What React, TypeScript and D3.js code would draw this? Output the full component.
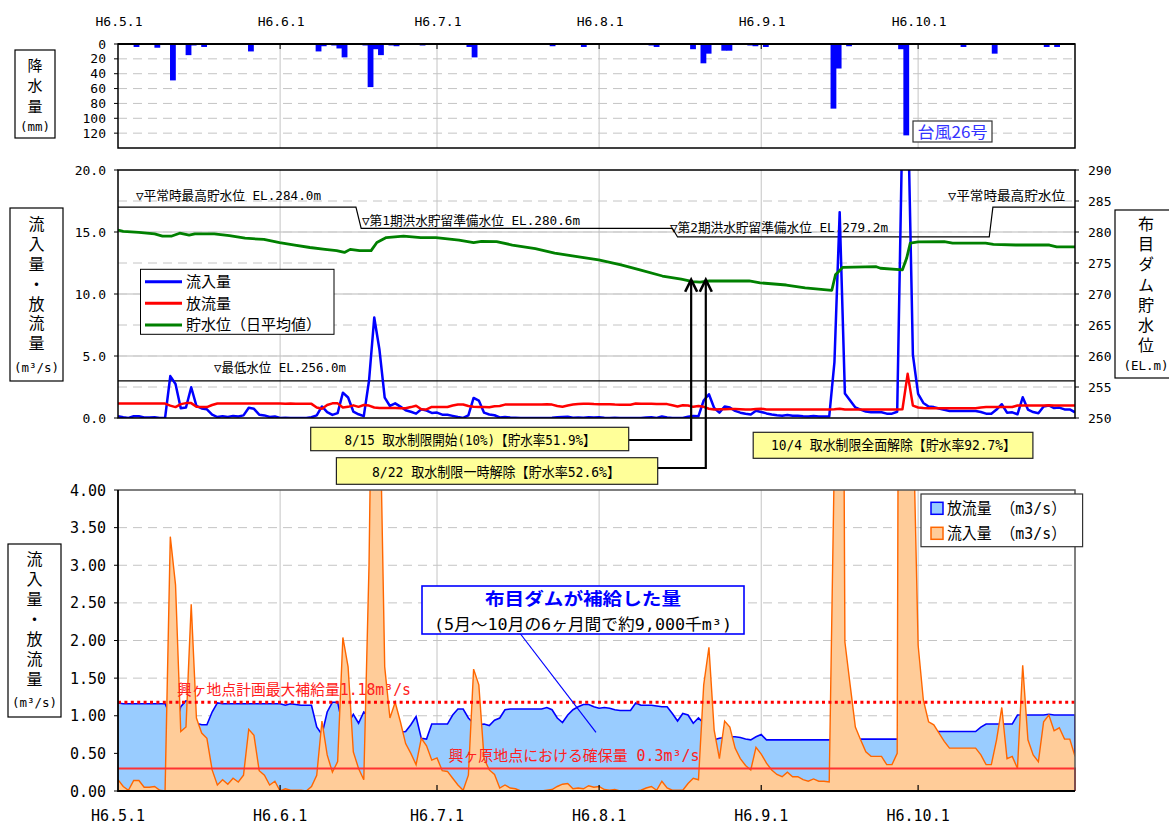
import * as d3 from "d3";

// 平成6年 5/1〜10/31 の日データ (day 0 = 5/1)
const monthStarts = [0, 31, 61, 92, 123, 153];
const monthLabels = ["H6.5.1", "H6.6.1", "H6.7.1", "H6.8.1", "H6.9.1", "H6.10.1"];

const rainTicks = [0, 20, 40, 60, 80, 100, 120];
const flowTicks = [0, 5, 10, 15, 20];
const levelTicks = [250, 255, 260, 265, 270, 275, 280, 285, 290];
const supplyTicks = [0, 0.5, 1, 1.5, 2, 2.5, 3, 3.5, 4];

// 降水量 [day, mm]
const rainfall: [number, number][] = [
  [3, 4], [7, 5], [10, 49], [13, 15], [14, 2], [16, 4], [25, 10], [38, 10], [39, 3],
  [41, 2], [42, 6], [43, 18], [47, 2], [48, 58], [49, 7], [50, 15], [52, 2], [53, 3],
  [58, 2], [67, 4], [68, 18], [83, 3], [89, 4], [102, 2], [103, 4], [110, 7], [112, 26],
  [113, 13], [116, 9], [117, 9], [121, 2], [122, 3], [124, 4], [137, 87], [138, 33],
  [140, 3], [150, 7], [151, 123], [162, 4], [168, 13], [178, 4], [180, 4],
];

// 流入量 (m3/s)
const inflow = [
  0.15, 0.06, 0.01, 0.14, 0.14, 0.05, 0.05, 0.06, 0.01, 0.0,
  3.38, 2.74, 0.79, 0.85, 2.48, 0.97, 0.77, 0.7, 0.28, 0.08,
  0.15, 0.09, 0.17, 0.12, 0.21, 0.82, 0.74, 0.27, 0.21, 0.08,
  0.13, 0.0, 0.03, 0.01, 0.01, 0.01, 0.0, 0.06, 0.21, 0.93,
  0.48, 0.25, 0.39, 2.04, 1.65, 0.52, 0.3, 0.15, 3.0, 8.1,
  5.5, 1.65, 0.97, 1.18, 0.92, 0.63, 0.5, 0.35, 0.7, 0.6,
  0.41, 0.44, 0.27, 0.26, 0.17, 0.08, 0.01, 0.21, 1.62, 1.41,
  0.43, 0.28, 0.22, 0.04, 0.08, 0.04, 0.03, 0.0, 0.0, 0.0,
  0.0, 0.0, 0.01, 0.02, 0.06, 0.09, 0.1, 0.03, 0.04, 0.03,
  0.07, 0.05, 0.06, 0.02, 0.01, 0.02, 0.0, 0.0, 0.0, 0.0,
  0.01, 0.04, 0.06, 0.01, 0.13, 0.04, 0.01, 0.01, 0.01, 0.1,
  0.17, 0.15, 1.41, 1.91, 0.81, 0.43, 0.93, 0.85, 0.57, 0.43,
  0.34, 0.28, 0.58, 0.49, 0.37, 0.28, 0.22, 0.19, 0.25, 0.19,
  0.19, 0.15, 0.13, 0.16, 0.13, 0.13, 0.12, 4.5, 16.6, 1.98,
  1.41, 0.85, 0.68, 0.52, 0.46, 0.46, 0.46, 0.35, 0.35, 0.5,
  24.0, 26.0, 5.1, 1.94, 1.21, 0.92, 0.88, 0.77, 0.66, 0.57,
  0.57, 0.57, 0.57, 0.57, 0.57, 0.48, 0.35, 0.35, 0.68, 1.11,
  0.43, 0.46, 0.3, 1.67, 0.68, 0.48, 0.39, 0.92, 1.01, 0.8,
  0.84, 0.69, 0.69, 0.46,
];

// 放流量 (m3/s)
const outflow = [
  1.17, 1.16, 1.16, 1.16, 1.16, 1.16, 1.16, 1.16, 1.16, 1.16,
  1.0, 0.88, 1.12, 1.2, 1.2, 0.9, 0.88, 0.88, 1.05, 1.17,
  1.16, 1.16, 1.16, 1.16, 1.16, 1.16, 1.16, 1.16, 1.16, 1.16,
  1.16, 1.16, 1.14, 1.16, 1.15, 1.14, 1.14, 1.14, 0.85, 0.75,
  1.05, 1.18, 1.18, 0.85, 0.9, 1.02, 0.9, 1.05, 1.0, 0.85,
  0.8, 0.8, 0.8, 0.8, 0.78, 0.79, 0.88, 0.99, 0.7, 0.69,
  0.89, 0.89, 0.89, 0.89, 1.01, 1.09, 1.09, 0.97, 0.9, 0.88,
  0.89, 0.87, 0.94, 0.97, 1.08, 1.09, 1.09, 1.09, 1.09, 1.09,
  1.09, 1.09, 1.11, 1.08, 0.97, 0.91, 1.01, 1.08, 1.12, 1.15,
  1.15, 1.12, 1.1, 1.11, 1.1, 1.08, 1.07, 1.07, 1.07, 1.17,
  1.14, 1.14, 1.14, 1.13, 1.12, 1.12, 1.03, 0.93, 1.03, 1.01,
  0.9, 0.97, 0.9, 0.75, 0.68, 0.7, 0.71, 0.72, 0.72, 0.71,
  0.69, 0.68, 0.72, 0.75, 0.68, 0.68, 0.68, 0.68, 0.68, 0.68,
  0.68, 0.68, 0.68, 0.68, 0.68, 0.68, 0.68, 0.7, 0.75, 0.69,
  0.69, 0.69, 0.69, 0.69, 0.69, 0.69, 0.69, 0.69, 0.69, 0.69,
  0.7, 3.56, 1.0, 0.85, 0.8, 0.79, 0.79, 0.79, 0.79, 0.79,
  0.79, 0.79, 0.79, 0.79, 0.79, 0.85, 0.89, 0.89, 0.89, 0.89,
  0.89, 0.89, 1.01, 1.01, 1.01, 1.01, 1.01, 1.01, 1.02, 1.01,
  1.01, 1.01, 1.01, 1.01,
];

// 貯水位 日平均値 (EL.m) [day, EL]
const storageLevel: [number, number][] = [
  [0, 280.3], [1, 280.1], [4, 279.95], [7, 279.7], [8.5, 279.35], [10.3, 279.35],
  [11.8, 279.8], [13.6, 279.5], [14.7, 279.7], [18.4, 279.7], [21.3, 279.4], [24.3, 279.0],
  [27.9, 278.8], [30.9, 278.3], [33.8, 277.9], [36.7, 277.5], [39.6, 277.2], [41.8, 277.0],
  [43.3, 276.7], [44.4, 277.2], [46.2, 277.0], [48.4, 277.0], [49.5, 278.3], [51.3, 279.1],
  [54.6, 279.35], [57.9, 279.1], [60.8, 279.1], [65.2, 278.7], [68, 278.3], [69.5, 278.5],
  [72.4, 278.45], [75.4, 277.9], [79.8, 277.3], [83.5, 276.6], [87.5, 276.05], [91.9, 275.5],
  [96.2, 274.7], [99.8, 273.9], [104.1, 272.9], [107.7, 272.4], [109.9, 272.0], [111.3, 271.9],
  [113.1, 272.1], [120.7, 272.1], [122.8, 271.8], [127.8, 271.45], [131.4, 271.0], [136.5, 270.6],
  [137.2, 273.1], [138.6, 274.3], [145, 274.4], [145.8, 274.15], [150, 273.9], [150.8, 275.75],
  [151.5, 278.2], [153, 278.4], [158, 278.45], [159.6, 278.2], [165.9, 278.2], [167.4, 278.0],
  [171.7, 277.9], [178.1, 277.9], [179.5, 277.6], [183, 277.6],
];

// 制限水位 (平常時最高 / 第1期 / 第2期)
const ruleLevel: [number, number][] = [
  [0, 284], [45.5, 284], [46.5, 280.6], [106, 280.6], [107, 279.2],
  [166.6, 279.2], [167.3, 284], [183, 284],
];
const minLevel = 256;
const maxSupply = 1.18;
const securedFlow = 0.3;
const arrowDays = [109.6, 112.4];

const X0 = 118;
const X1 = 1075;
const MONO = "'DejaVu Sans Mono', 'Noto Sans CJK JP', monospace";
const JP = "'Noto Sans CJK JP', sans-serif";
const GRID = "#c4c4c4";

const x = d3.scaleLinear().domain([0, 183]).range([X0, X1]);
const xb = d3.scaleBand<number>().domain(d3.range(184)).range([X0, X1]).paddingInner(0);
const yRain = d3.scaleLinear().domain([0, 140]).range([44, 148]);
const yFlow = d3.scaleLinear().domain([0, 20]).range([418, 170]);
const yEL = d3.scaleLinear().domain([250, 290]).range([418, 170]);
const ySup = d3.scaleLinear().domain([0, 4]).range([791, 490]);

// 縦書きの軸ラベル枠
function VBox(props: { x: number; y: number; w: number; h: number; text: string; first: number; step: number; unit: string; unitY: number; fs?: number }) {
  const cx = props.x + props.w / 2;
  const fs = props.fs || 16;
  return (
    <g>
      <rect x={props.x} y={props.y} width={props.w} height={props.h} fill="#fff" stroke="#000" strokeWidth={1.2} />
      <text
        x={cx}
        y={props.first - fs / 2}
        fontFamily={JP}
        fontSize={fs}
        style={{ writingMode: "vertical-rl", letterSpacing: `${props.step - fs}px` }}
      >
        {props.text}
      </text>
      <text x={cx} y={props.unitY + 5} textAnchor="middle" fontFamily={MONO} fontSize={12.5}>
        {props.unit}
      </text>
    </g>
  );
}

export default function App() {
  const flowLine = (vals: number[]) =>
    d3.line<number>().x((_, i) => x(i)).y((v) => yFlow(v))(vals) as string;
  const levelLine = d3.line<[number, number]>().x((d) => x(d[0])).y((d) => yEL(d[1]));
  const supArea = d3.area<number>().x((_, i) => x(i)).y0(ySup(0)).y1((v) => ySup(v));
  const supLine = d3.line<number>().x((_, i) => x(i)).y((v) => ySup(v));

  const vGrid = (y0: number, y1: number) =>
    monthStarts.slice(1).map((m) => (
      <line key={"g" + m + y0} x1={x(m)} x2={x(m)} y1={y0} y2={y1} stroke={GRID} strokeWidth={1} />
    ));

  return (
    <svg width={1169} height={828} style={{ position: "absolute", left: 0, top: 0, background: "#fff" }}>
      <defs>
        <clipPath id="clipMid">
          <rect x={X0} y={170} width={X1 - X0} height={248} />
        </clipPath>
        <clipPath id="clipBot">
          <rect x={X0} y={490} width={X1 - X0} height={301} />
        </clipPath>
      </defs>

      {/* ===== 降水量 ===== */}
      {monthStarts.map((m, i) => (
        <text key={"tl" + m} x={x(m) + 1} y={26} textAnchor="middle" fontFamily={MONO} fontSize={13}>
          {monthLabels[i]}
        </text>
      ))}
      {rainTicks.slice(1).map((t) => (
        <line key={"rg" + t} x1={X0} x2={X1} y1={yRain(t)} y2={yRain(t)} stroke={GRID} strokeDasharray="9 6" />
      ))}
      {vGrid(44, 148)}
      {rainfall.map(([d, mm]) => (
        <rect key={"r" + d} x={xb(d)} y={yRain(0)} width={xb.bandwidth() + 0.6} height={yRain(mm) - yRain(0)} fill="#0000ff" />
      ))}
      <rect x={X0} y={44} width={X1 - X0} height={104} fill="none" stroke="#000" strokeWidth={1.5} />
      <line x1={X0} x2={X1} y1={44} y2={44} stroke="#000" strokeWidth={2.2} />
      {monthStarts.slice(1).map((m) => (
        <line key={"rt" + m} x1={x(m)} x2={x(m)} y1={44} y2={49} stroke="#000" />
      ))}
      {rainTicks.map((t) => (
        <g key={"rl" + t}>
          <line x1={X0 - 4} x2={X0} y1={yRain(t)} y2={yRain(t)} stroke="#000" />
          <text x={106} y={yRain(t) + 4.5} textAnchor="end" fontFamily={MONO} fontSize={13}>
            {t}
          </text>
        </g>
      ))}
      <VBox x={15} y={50} w={40} h={88} text="降水量" first={65} step={20.8} unit="(mm)" unitY={126} fs={15} />
      <rect x={913} y={121} width={79} height={21} fill="#fff" stroke="#333" strokeWidth={1.2} />
      <text x={952.5} y={138} textAnchor="middle" fontFamily={JP} fontSize={16} fill="#3333ff" textLength={70} lengthAdjust="spacingAndGlyphs">
        台風26号
      </text>

      {/* ===== 流入量・放流量・貯水位 ===== */}
      {levelTicks.slice(1, -1).map((t) => (
        <line key={"lg" + t} x1={X0} x2={X1} y1={yEL(t)} y2={yEL(t)} stroke={GRID} strokeDasharray="9 6" />
      ))}
      {flowTicks.slice(1, -1).map((t) => (
        <line key={"fg" + t} x1={X0} x2={X1} y1={yFlow(t)} y2={yFlow(t)} stroke="#d0d0d0" strokeWidth={1.6} />
      ))}
      {vGrid(170, 418)}
      <path d={levelLine(ruleLevel) as string} fill="none" stroke="#000" strokeWidth={1.2} />
      <line x1={X0} x2={X1} y1={yEL(minLevel)} y2={yEL(minLevel)} stroke="#000" strokeWidth={1.2} />
      <text x={136} y={200} fontFamily={MONO} fontSize={13} textLength={185} lengthAdjust="spacingAndGlyphs">▽平常時最高貯水位 EL.284.0m</text>
      <text x={362} y={224.5} fontFamily={MONO} fontSize={13} textLength={218} lengthAdjust="spacingAndGlyphs">▽第1期洪水貯留準備水位 EL.280.6m</text>
      <text x={670} y={232} fontFamily={MONO} fontSize={13} textLength={218} lengthAdjust="spacingAndGlyphs">▽第2期洪水貯留準備水位 EL.279.2m</text>
      <text x={948} y={199.5} fontFamily={MONO} fontSize={13} textLength={117} lengthAdjust="spacingAndGlyphs">▽平常時最高貯水位</text>
      <text x={214} y={371.5} fontFamily={MONO} fontSize={13} textLength={132} lengthAdjust="spacingAndGlyphs">▽最低水位 EL.256.0m</text>
      <g clipPath="url(#clipMid)">
        <path d={flowLine(inflow)} fill="none" stroke="#0000ff" strokeWidth={2.5} strokeLinejoin="round" />
        <path d={flowLine(outflow)} fill="none" stroke="#ff0000" strokeWidth={2.5} strokeLinejoin="round" />
        <path d={levelLine(storageLevel) as string} fill="none" stroke="#008000" strokeWidth={2.8} strokeLinejoin="round" />
      </g>
      <rect x={X0} y={170} width={X1 - X0} height={248} fill="none" stroke="#000" strokeWidth={1.5} />
      {flowTicks.map((t) => (
        <g key={"fl" + t}>
          <line x1={X0 - 4} x2={X0} y1={yFlow(t)} y2={yFlow(t)} stroke="#000" />
          <text x={106} y={yFlow(t) + 4.5} textAnchor="end" fontFamily={MONO} fontSize={13}>
            {d3.format(".1f")(t)}
          </text>
        </g>
      ))}
      {levelTicks.map((t) => (
        <g key={"ll" + t}>
          <line x1={X1} x2={X1 + 4} y1={yEL(t)} y2={yEL(t)} stroke="#000" />
          <text x={1088} y={yEL(t) + 4.5} fontFamily={MONO} fontSize={13}>
            {t}
          </text>
        </g>
      ))}
      <g>
        <rect x={140.5} y={269.3} width={193.5} height={65} fill="#fff" stroke="#000" strokeWidth={1} />
        {[
          ["流入量", "#0000ff"],
          ["放流量", "#ff0000"],
          ["貯水位（日平均値）", "#008000"],
        ].map(([label, c], i) => (
          <g key={label}>
            <line x1={145} x2={182} y1={281.7 + i * 21.6} y2={281.7 + i * 21.6} stroke={c} strokeWidth={3} />
            <text x={186} y={281.7 + i * 21.6 + 5.5} fontFamily={JP} fontSize={15}>
              {label}
            </text>
          </g>
        ))}
      </g>
      <VBox x={10} y={208} w={53} h={173} text="流入量・放流量" first={224.3} step={19.8} unit="(m³/s)" unitY={366.7} />
      <VBox x={1115} y={210} w={62} h={168} text="布目ダム貯水位" first={224} step={20.2} unit="(EL.m)" unitY={365} />

      {/* ===== 取水制限の注記 ===== */}
      {arrowDays.map((d, i) => {
        const ax = x(d);
        const yTop = yEL(272.3);
        const yBox = i === 0 ? 440 : 468;
        const xBox = i === 0 ? 628.7 : 657.7;
        return (
          <g key={"ar" + i} fill="none" stroke="#000" strokeWidth={2.2}>
            <polyline points={`${xBox},${yBox} ${ax},${yBox} ${ax},${yTop + 1}`} />
            <polyline points={`${ax - 6},${yTop + 12} ${ax},${yTop} ${ax + 6},${yTop + 12}`} strokeWidth={2.6} />
          </g>
        );
      })}
      {[
        { bx: 310.7, by: 427.3, bw: 318, bh: 23.4, cx: 470, ty: 445, tl: 251, t: "8/15 取水制限開始(10%)【貯水率51.9%】" },
        { bx: 336.4, by: 457.7, bw: 321.3, bh: 26.6, cx: 496, ty: 476.5, tl: 248, t: "8/22 取水制限一時解除【貯水率52.6%】" },
        { bx: 753.2, by: 432.3, bw: 279.7, bh: 26, cx: 893.5, ty: 450, tl: 245, t: "10/4 取水制限全面解除【貯水率92.7%】" },
      ].map((b) => (
        <g key={b.t}>
          <rect x={b.bx} y={b.by} width={b.bw} height={b.bh} fill="#ffff99" stroke="#222" strokeWidth={1.2} />
          <text x={b.cx} y={b.ty} textAnchor="middle" fontFamily={MONO} fontSize={14} textLength={b.tl} lengthAdjust="spacingAndGlyphs">
            {b.t}
          </text>
        </g>
      ))}

      {/* ===== 補給量 ===== */}
      {supplyTicks.slice(1, -1).map((t) => (
        <line key={"sg" + t} x1={X0} x2={X1} y1={ySup(t)} y2={ySup(t)} stroke={GRID} strokeDasharray="9 6" />
      ))}
      {vGrid(490, 791)}
      <g clipPath="url(#clipBot)">
        <path d={supArea(outflow) as string} fill="#99ccff" stroke="none" />
        <path d={supLine(outflow) as string} fill="none" stroke="#0000ff" strokeWidth={1.6} />
        <line x1={X1} x2={X1} y1={ySup(outflow[183])} y2={ySup(0)} stroke="#0000ff" strokeWidth={2} />
        <path d={supArea(inflow) as string} fill="#ffcc99" stroke="none" />
        <path d={supLine(inflow) as string} fill="none" stroke="#ff6600" strokeWidth={1.4} />
      </g>
      <line x1={X0} x2={X1} y1={ySup(maxSupply)} y2={ySup(maxSupply)} stroke="#ff0000" strokeWidth={3} strokeDasharray="3 3.4" />
      <polyline points={`${X0},${ySup(securedFlow)} ${X1},${ySup(securedFlow)} ${X1},${ySup(0)}`} fill="none" stroke="#ff3333" strokeWidth={2} />
      <text x={177} y={695} fontFamily={MONO} fontSize={15} fill="#ff2020" textLength={234} lengthAdjust="spacingAndGlyphs">
        興ヶ地点計画最大補給量1.18m³/s
      </text>
      <text x={448.5} y={761} fontFamily={MONO} fontSize={15} fill="#ff2020" textLength={251} lengthAdjust="spacingAndGlyphs">
        興ヶ原地点における確保量 0.3m³/s
      </text>
      <path d={`M${X0},490 H${X1} V791`} fill="none" stroke="#555" strokeWidth={1.5} />
      <path d={`M${X0},490 V791 H${X1}`} fill="none" stroke="#000" strokeWidth={1.8} />
      {monthStarts.slice(1).map((m) => (
        <line key={"bt" + m} x1={x(m)} x2={x(m)} y1={785} y2={791} stroke="#000" strokeWidth={1.2} />
      ))}
      {supplyTicks.map((t) => (
        <g key={"sl" + t}>
          <line x1={X0 - 4} x2={X0} y1={ySup(t)} y2={ySup(t)} stroke="#000" />
          <text x={106} y={ySup(t) + 5.5} textAnchor="end" fontFamily={MONO} fontSize={15}>
            {d3.format(".2f")(t)}
          </text>
        </g>
      ))}
      {monthStarts.map((m, i) => (
        <text key={"bl" + m} x={x(m)} y={821} textAnchor="middle" fontFamily={MONO} fontSize={15}>
          {monthLabels[i]}
        </text>
      ))}
      <VBox x={8} y={544} w={53} h={173} text="流入量・放流量" first={559.3} step={20} unit="(m³/s)" unitY={701.7} />

      {/* 補給量の注記 */}
      <line x1={519} y1={632} x2={x(91.4)} y2={ySup(0.78)} stroke="#0000ff" strokeWidth={1.2} />
      <rect x={422} y={586} width={322} height={48} fill="#fff" stroke="#0000ff" strokeWidth={1.6} />
      <text x={583} y={605} textAnchor="middle" fontFamily={JP} fontWeight="bold" fontSize={17} fill="#0000ff" textLength={196} lengthAdjust="spacingAndGlyphs">
        布目ダムが補給した量
      </text>
      <text x={583} y={630} textAnchor="middle" fontFamily={MONO} fontSize={16} textLength={298} lengthAdjust="spacingAndGlyphs">
        (5月～10月の6ヶ月間で約9,000千m³)
      </text>

      {/* 凡例 */}
      <rect x={921} y={494} width={161.6} height={52.7} fill="#fff" stroke="#333" strokeWidth={1.2} />
      {[
        ["放流量 （m3/s）", "#99ccff", "#0000ff"],
        ["流入量 （m3/s）", "#ffcc99", "#ff6600"],
      ].map(([label, fill, stroke], i) => (
        <g key={label}>
          <rect x={931} y={502.3 + i * 25} width={12} height={12} fill={fill} stroke={stroke} strokeWidth={1.5} />
          <text x={947} y={514 + i * 25} fontFamily={MONO} fontSize={16} textLength={119} lengthAdjust="spacingAndGlyphs">
            {label}
          </text>
        </g>
      ))}
    </svg>
  );
}
